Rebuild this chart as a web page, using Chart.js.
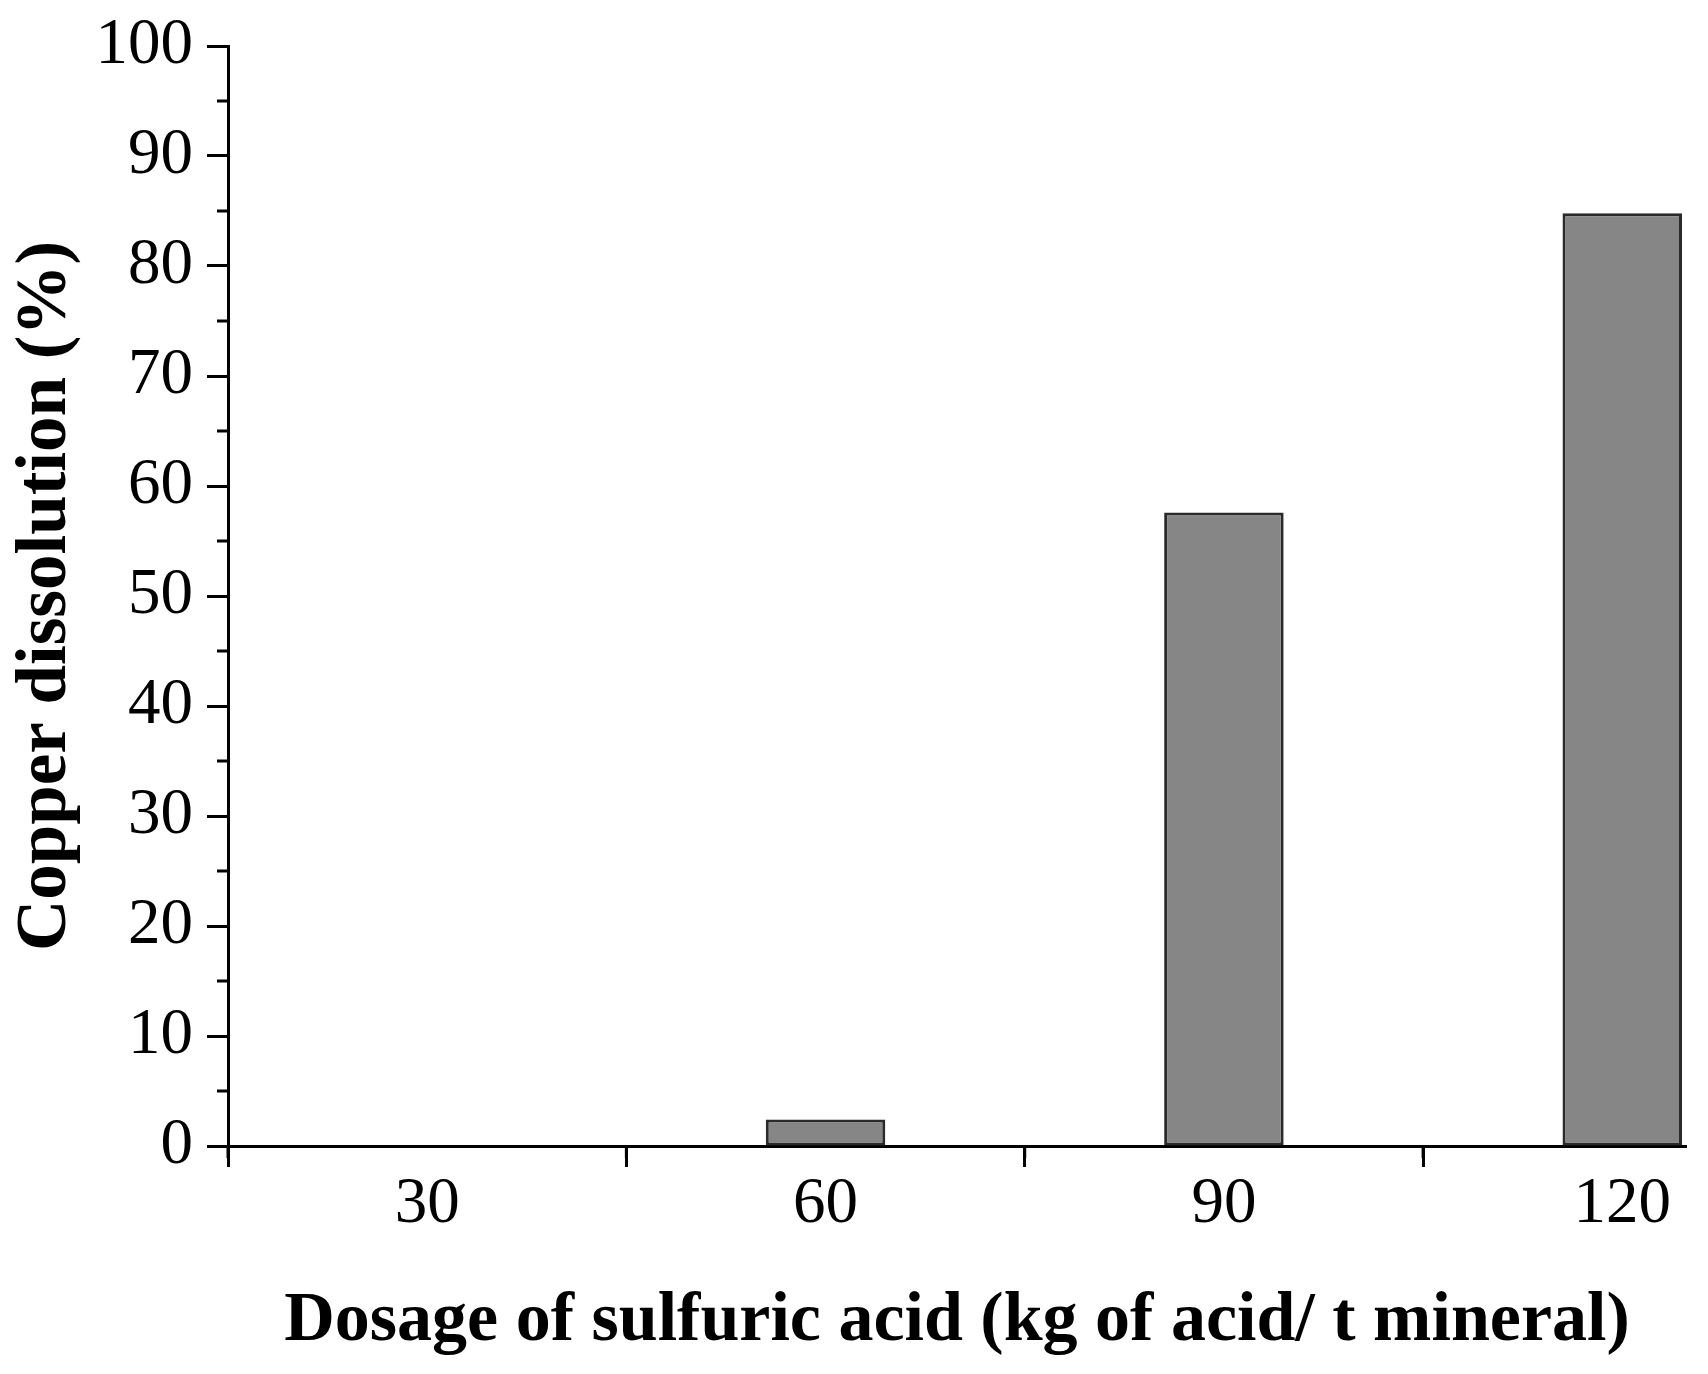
<!DOCTYPE html>
<html>
<head>
<meta charset="utf-8">
<script src="https://cdn.jsdelivr.net/npm/chart.js@4/dist/chart.umd.min.js"></script>
<style>
  html, body { margin: 0; padding: 0; background: #fff; }
  #wrap { width: 1708px; height: 1374px; }
</style>
</head>
<body>
<div id="wrap"><canvas id="chart" width="1708" height="1374"></canvas></div>
<script>
const c = document.getElementById('chart').getContext('2d');

const doses = [30, 60, 90, 120];
const dissolution = [0, 2.4, 57.6, 84.8];

const xTicks = [30, 60, 90, 120];
const xMinorTicks = [15, 45, 75, 105];
const yMinorTicks = [5, 15, 25, 35, 45, 55, 65, 75, 85, 95];

// short minor ticks, drawn through the scales
const minorTicks = {
    id: 'minorTicks',
    afterDraw(chart) {
        const ctx = chart.ctx;
        const xs = chart.scales.x, ys = chart.scales.y;
        const area = chart.chartArea;
        ctx.save();
        ctx.strokeStyle = '#000';
        ctx.lineWidth = 3;
        ctx.beginPath();
        yMinorTicks.forEach(v => {
            const py = ys.getPixelForValue(v);
            ctx.moveTo(area.left, py);
            ctx.lineTo(area.left - 11, py);
        });
        xMinorTicks.forEach(v => {
            const px = xs.getPixelForValue(v);
            ctx.moveTo(px, area.bottom);
            ctx.lineTo(px, area.bottom + 12);
        });
        ctx.stroke();
        ctx.restore();
    }
};

const data = {
    datasets: [
        {
            data: doses.map((d, i) => ({x: d, y: dissolution[i]})),
            backgroundColor: '#868686',
            borderColor: '#2a2a2a',
            borderWidth: 3,
            borderSkipped: false,
            barPercentage: 0.3,
            categoryPercentage: 1
        }
    ]
};

const serif = '"Liberation Serif", "Times New Roman", serif';

const config = {
    type: 'bar',
    data: data,
    plugins: [minorTicks],
    options: {
        responsive: false,
        animation: false,
        layout: {
            padding: {left: 0, top: 46, right: 22, bottom: 0}
        },
        plugins: {
            legend: {display: false},
            tooltip: {enabled: false}
        },
        scales: {
            x: {
                type: 'linear',
                min: 15,
                max: 124.8,
                offset: false,
                afterFit: s => { s.height = 228; s.paddingLeft = 0; s.paddingRight = 0; },
                afterBuildTicks: s => { s.ticks = xTicks.map(v => ({value: v})); },
                border: {display: true, color: '#000', width: 3},
                grid: {
                    display: true,
                    drawOnChartArea: false,
                    drawTicks: true,
                    tickLength: 21,
                    tickWidth: 3,
                    tickColor: '#000'
                },
                ticks: {
                    color: '#000',
                    padding: -1,
                    maxRotation: 0,
                    font: {family: serif, size: 65}
                },
                title: {
                    display: true,
                    text: 'Dosage of sulfuric acid (kg of acid/ t mineral)',
                    color: '#000',
                    padding: {top: 0, bottom: 10},
                    font: {family: serif, size: 70, weight: 'bold'}
                }
            },
            y: {
                min: 0,
                max: 100,
                afterFit: s => { s.width = 228; s.paddingTop = 0; s.paddingBottom = 0; },
                border: {display: true, color: '#000', width: 3},
                grid: {
                    display: true,
                    drawOnChartArea: false,
                    drawTicks: true,
                    tickLength: 21,
                    tickWidth: 3,
                    tickColor: '#000'
                },
                ticks: {
                    stepSize: 10,
                    color: '#000',
                    padding: 14,
                    font: {family: serif, size: 65}
                },
                title: {
                    display: true,
                    text: 'Copper dissolution (%)',
                    color: '#000',
                    padding: {top: 4, bottom: 0},
                    font: {family: serif, size: 71, weight: 'bold'}
                }
            }
        }
    }
};

const chart = new Chart(c, config);
</script>
</body>
</html>
